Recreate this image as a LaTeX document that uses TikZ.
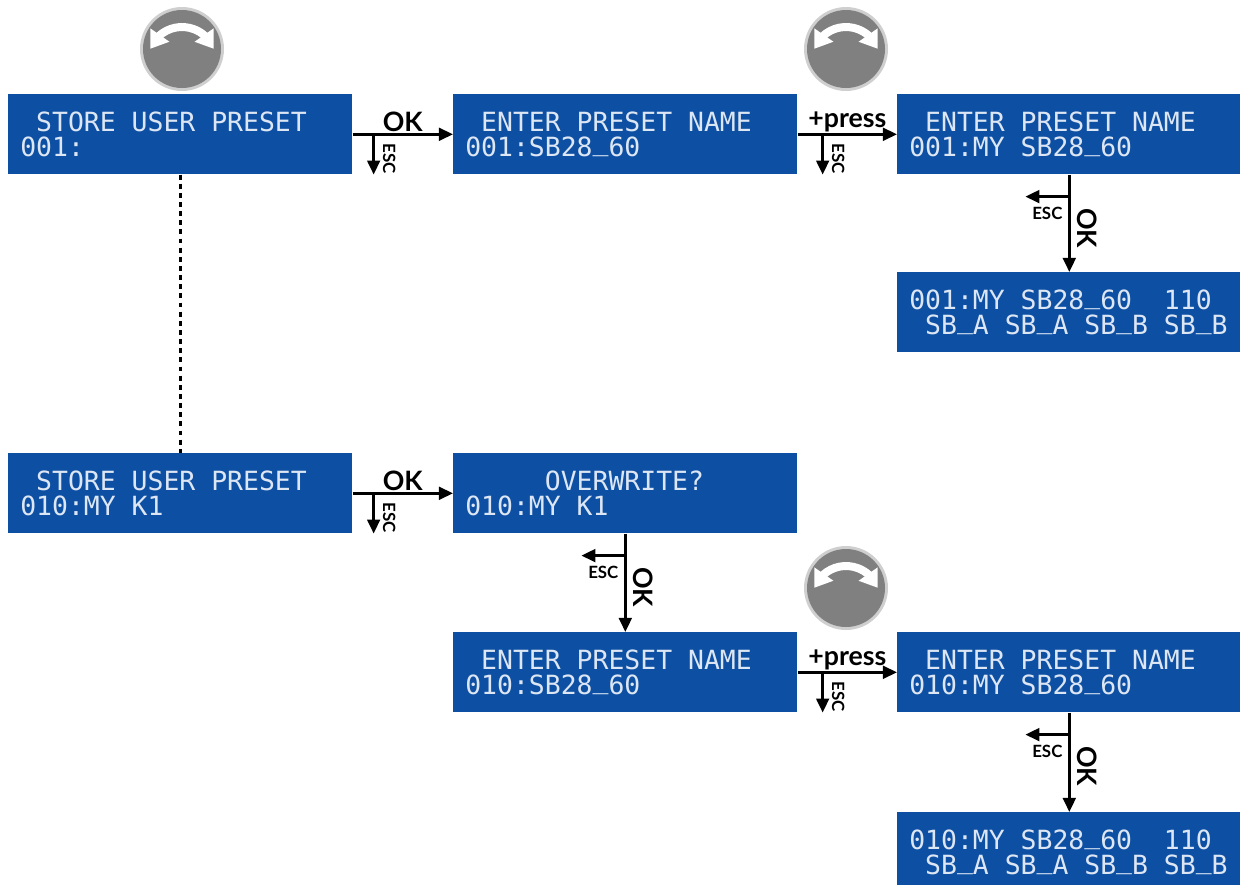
\documentclass[tikz,border=0pt]{standalone}
\usepackage{fontspec}
\usetikzlibrary{arrows.meta,bending,calc}
\newfontfamily\lcdfont{DejaVu Sans Mono}
\newfontfamily\keyfont{Lato}
\definecolor{lcdblue}{HTML}{0D4FA2}
\definecolor{lcdtext}{HTML}{DCE6F4}
\definecolor{knobgray}{HTML}{808080}
\definecolor{knobrim}{HTML}{CFCFCF}
% one LCD character cell, and the LCD underscore (sits on the baseline)
\newcommand{\lsp}{\hphantom{0}}
\newcommand{\us}{\raisebox{0.2em}{\_}}
\newcommand{\lcdsetup}{\lcdfont\fontsize{18.8}{17.8}\selectfont}
\newcommand{\knob}[1]{%
\begin{scope}[shift={#1}]
\fill[knobrim] (0,0) circle (42);
\fill[knobgray] (0,0) circle (39);
\draw[white, line width=0.2cm, {Triangle[length=0.42cm,width=0.55cm]}-{Triangle[length=0.42cm,width=0.55cm]}]
  ([shift={(201:34)}]0,12) arc [start angle=201, end angle=339, radius=34];
\end{scope}}

\begin{document}
\begin{tikzpicture}[x=0.025cm,y=-0.025cm,
  lcd/.style={fill=lcdblue, text=lcdtext, anchor=north west, minimum width=8.6cm,
    minimum height=2cm, text width=8cm, inner xsep=0.3cm, inner ysep=0pt, align=left,
    font=\lcdsetup},
  conn/.style={line width=2pt, -{Triangle[length=10pt,width=9pt]}},
  keylbl/.style={font=\keyfont\bfseries\fontsize{19}{19}\selectfont, inner sep=1pt},
  esclbl/.style={font=\keyfont\bfseries\fontsize{12}{12}\selectfont, inner sep=0pt}]
\useasboundingbox (0,0) rectangle (1240,884);
\clip (0,0) rectangle (1240,884);

\knob{(182,49)}
\knob{(846,49)}
\knob{(846,588)}

% displays
\node[lcd] (store) at (8,94) {\lsp STORE\lsp USER\lsp PRESET\\001:};
\node[lcd] (entname) at (453,94) {\lsp ENTER\lsp PRESET\lsp NAME\\001:SB28\us 60};
\node[lcd] (myname) at (897,94) {\lsp ENTER\lsp PRESET\lsp NAME\\001:MY\lsp SB28\us 60};
\node[lcd] (saved) at (897,272) {001:MY\lsp SB28\us 60\lsp\lsp 110\\\lsp SB\us A\lsp SB\us A\lsp SB\us B\lsp SB\us B};
\node[lcd] (ustore) at (8,453) {\lsp STORE\lsp USER\lsp PRESET\\010:MY\lsp K1};
\node[lcd] (overwr) at (453,453) {\lsp\lsp\lsp\lsp\lsp OVERWRITE?\\010:MY\lsp K1};
\node[lcd] (uname) at (453,632) {\lsp ENTER\lsp PRESET\lsp NAME\\010:SB28\us 60};
\node[lcd] (umyname) at (897,632) {\lsp ENTER\lsp PRESET\lsp NAME\\010:MY\lsp SB28\us 60};
\node[lcd] (usaved) at (897,812) {010:MY\lsp SB28\us 60\lsp\lsp 110\\\lsp SB\us A\lsp SB\us A\lsp SB\us B\lsp SB\us B};

\draw[line width=2.2pt, dash pattern=on 3.5pt off 3pt] (store.south) -- (ustore.north);

% horizontal steps
\foreach \a/\b/\lbl/\off in {store/entname/OK/21, entname/myname/+press/25,
  ustore/overwr/OK/21, uname/umyname/+press/25}
{
\draw[conn] (\a.east) -- node[keylbl, above] (\a-key) {\lbl} (\b.west);
\coordinate (\a-br) at ($(\a.east)+(\off,0)$);
\draw[conn] (\a-br) -- (\a-br |- \a.south);
\node[esclbl, rotate=-90, anchor=south west] (\a-esc) at ($(\a-br)+(9,9)$) {ESC};
}

% vertical steps
\foreach \a/\b in {myname/saved, overwr/uname, umyname/usaved}
{
\draw[conn] (\a.south) -- (\b.north);
\coordinate (\a-br) at ($(\a.south)+(0,22)$);
\coordinate (\a-end) at ($(\a-br)+(-44,0)$);
\draw[conn] (\a-br) -- (\a-end);
\node[esclbl] (\a-esc) at ($(\a-br)+(-22,17)$) {ESC};
\node[keylbl, rotate=-90, anchor=south west] (\a-key) at ($(\a-br)+(6,10)$) {OK};
}
\end{tikzpicture}
\end{document}
